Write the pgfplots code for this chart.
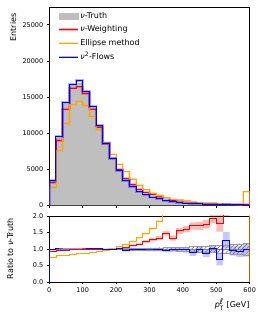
\documentclass[border=0pt]{standalone}
\usepackage{amsmath}
\usepackage{fontspec}
\setmainfont{DejaVu Sans}
\usepackage{pgfplots}
\pgfplotsset{compat=1.18}
\usepackage{pgfplotstable}
\usetikzlibrary{patterns}

\definecolor{mred}{rgb}{1,0,0}
\definecolor{morange}{HTML}{FFA500}
\definecolor{mblue}{rgb}{0,0,1}
\definecolor{mgray}{HTML}{BFBFBF}

\pgfdeclarepatternformonly{widehatch}{\pgfqpoint{-1pt}{-1pt}}{\pgfqpoint{5pt}{5pt}}{\pgfqpoint{4.2pt}{4.2pt}}{%
  \pgfsetlinewidth{0.45pt}%
  \pgfpathmoveto{\pgfqpoint{-0.2pt}{-0.2pt}}%
  \pgfpathlineto{\pgfqpoint{4.4pt}{4.4pt}}%
  \pgfusepath{stroke}}

% x = left bin edge; last bin repeated at 600; zero rows close the steps
\pgfplotstableread{
x truth red orange blue
0 0 0 0 0
0 3300 3150 2490 3400
20 9300 8950 7560 9500
40 14000 13300 11350 14200
60 16500 16200 13900 16700
80 16900 16400 14400 17250
100 15700 15500 13800 15800
120 13500 13300 12370 13700
140 11000 10850 10500 11050
160 8600 8550 8700 8550
180 6500 6550 7100 6450
200 4900 5000 5700 4800
220 3600 3750 4650 3450
240 2650 2900 3600 2600
260 1950 2240 2750 1900
280 1520 1850 2150 1480
300 1180 1510 1700 1140
320 920 1220 1330 900
340 700 1040 1050 670
360 530 700 850 515
380 410 640 680 400
400 320 510 540 310
420 250 425 430 220
440 200 340 350 195
460 160 280 290 138
480 125 240 240 125
500 100 180 200 68
520 80 185 170 102
540 65 155 150 62
560 52 125 130 48
580 42 105 1880 41
600 42 105 1880 41
600 0 0 0 0
}\tophist

\pgfplotstableread{
x te red rerr or oerr bl berr
0 0.010 0.94 0.015 0.76 0.010 0.98 0.015
20 0.008 0.97 0.010 0.80 0.010 1.00 0.010
40 0.007 0.96 0.010 0.81 0.010 1.00 0.010
60 0.007 0.98 0.010 0.84 0.010 1.00 0.010
80 0.007 0.98 0.010 0.86 0.010 1.00 0.010
100 0.008 0.99 0.010 0.88 0.010 1.00 0.010
120 0.008 1.00 0.010 0.90 0.010 1.01 0.010
140 0.009 0.99 0.012 0.93 0.010 1.00 0.012
160 0.010 1.00 0.014 0.96 0.012 0.99 0.014
180 0.012 1.00 0.016 1.01 0.014 0.99 0.016
200 0.015 1.02 0.020 1.08 0.015 1.00 0.020
220 0.018 1.04 0.025 1.15 0.020 0.95 0.025
240 0.022 1.10 0.030 1.24 0.020 0.98 0.030
260 0.026 1.15 0.035 1.34 0.025 0.98 0.035
280 0.030 1.22 0.045 1.46 0.030 0.97 0.040
300 0.035 1.28 0.050 1.62 0.035 0.97 0.045
320 0.040 1.33 0.060 1.85 0.040 0.98 0.050
340 0.045 1.48 0.070 2.10 0.050 0.96 0.055
360 0.050 1.33 0.080 2.30 0.050 0.97 0.060
380 0.060 1.55 0.090 2.50 0.050 0.98 0.070
400 0.065 1.60 0.100 2.60 0.050 0.97 0.080
420 0.075 1.70 0.110 2.70 0.050 0.88 0.090
440 0.085 1.70 0.120 2.80 0.050 0.98 0.100
460 0.095 1.75 0.130 2.90 0.050 0.86 0.110
480 0.105 1.93 0.140 3.00 0.050 1.00 0.120
500 0.120 1.78 0.250 3.10 0.050 0.68 0.180
520 0.130 2.30 0.300 3.20 0.050 1.27 0.250
540 0.150 2.40 0.300 3.30 0.050 0.95 0.150
560 0.160 2.40 0.300 3.40 0.050 0.93 0.170
580 0.180 2.50 0.300 3.50 0.050 0.97 0.200
600 0.180 2.50 0.300 3.50 0.050 0.97 0.200
}\ratiotab

\pgfplotsset{
  common/.style={
    scale only axis, width=200.4pt,
    xmin=0, xmax=600, xtick={0,100,...,600},
    tick align=outside, xtick pos=bottom, ytick pos=left,
    major tick length=2.5pt,
    every tick/.style={black, line width=0.5pt},
    axis line style={line width=0.6pt},
    tick label style={font=\fontsize{6.5}{7}\selectfont},
    /pgf/number format/assume math mode=true,
    /pgf/number format/1000 sep={},
    label style={font=\fontsize{8}{9}\selectfont},
  },
  ratiobox/.style={
    scale only axis, width=200.4pt, height=66pt,
    at={(49.3pt,37pt)}, anchor=south west,
    xmin=0, xmax=600, ymin=0, ymax=2,
  },
  band/.style={ratiobox, hide axis, stack plots=y},
}

\begin{document}
\begin{tikzpicture}
\path[use as bounding box] (0pt,0pt) rectangle (266pt,319pt);

\begin{axis}[common,
  at={(49.3pt,113.7pt)}, anchor=south west, height=198.3pt,
  ymin=0, ymax=27450, ytick={0,5000,...,25000}, scaled y ticks=false,
  xticklabels={},
  ylabel={Entries},
  ylabel style={at={(axis description cs:-0.181,0.985)}, anchor=east},
  legend style={at={(0.025,0.99)}, anchor=north west, draw=none, fill=none,
    font=\fontsize{8}{9}\selectfont, row sep=3.4pt,
    nodes={inner sep=1.2pt}},
  legend cell align=left,
]
\addlegendimage{legend image code/.code={\fill[mgray] (0pt,-2.8pt) rectangle (19pt,2.8pt);}}
\addlegendentry{\textit{ν}-Truth}
\addlegendimage{legend image code/.code={\draw[mred, opacity=0.3, line width=2.6pt] (0pt,0pt)--(19pt,0pt);\draw[mred, line width=0.8pt] (0pt,0pt)--(19pt,0pt);}}
\addlegendentry{\textit{ν}-Weighting}
\addlegendimage{legend image code/.code={\draw[morange, opacity=0.3, line width=2.6pt] (0pt,0pt)--(19pt,0pt);\draw[morange, line width=0.8pt] (0pt,0pt)--(19pt,0pt);}}
\addlegendentry{Ellipse method}
\addlegendimage{legend image code/.code={\draw[mblue, opacity=0.3, line width=2.6pt] (0pt,0pt)--(19pt,0pt);\draw[mblue, line width=0.8pt] (0pt,0pt)--(19pt,0pt);}}
\addlegendentry{\textit{ν}\textsuperscript{2}-Flows}

\addplot[fill=mgray, draw=none, const plot, forget plot] table[x=x, y=truth] {\tophist} \closedcycle;
\addplot[mred, opacity=0.3, line width=2.4pt, const plot, forget plot] table[x=x, y=red] {\tophist};
\addplot[mred, line width=0.8pt, const plot, forget plot] table[x=x, y=red] {\tophist};
\addplot[morange, opacity=0.3, line width=2.4pt, const plot, forget plot] table[x=x, y=orange] {\tophist};
\addplot[morange, line width=0.8pt, const plot, forget plot] table[x=x, y=orange] {\tophist};
\addplot[mblue, opacity=0.3, line width=2.6pt, const plot, forget plot] table[x=x, y=blue] {\tophist};
\addplot[mblue, line width=1pt, const plot, forget plot] table[x=x, y=blue] {\tophist};
\end{axis}

% ratio bands (stacked: lower edge, then band width)
\begin{axis}[band]
\addplot[draw=none, const plot] table[x=x, y expr=\thisrow{or}-\thisrow{oerr}] {\ratiotab};
\addplot[fill=morange, fill opacity=0.3, draw=none, const plot] table[x=x, y expr=2*\thisrow{oerr}] {\ratiotab} \closedcycle;
\end{axis}
\begin{axis}[band]
\addplot[draw=none, const plot] table[x=x, y expr=\thisrow{red}-\thisrow{rerr}] {\ratiotab};
\addplot[fill=mred, fill opacity=0.27, draw=none, const plot] table[x=x, y expr=2*\thisrow{rerr}] {\ratiotab} \closedcycle;
\end{axis}
\begin{axis}[band]
\addplot[draw=none, const plot] table[x=x, y expr=\thisrow{bl}-\thisrow{berr}] {\ratiotab};
\addplot[fill=mblue, fill opacity=0.22, draw=none, const plot] table[x=x, y expr=2*\thisrow{berr}] {\ratiotab} \closedcycle;
\end{axis}
\begin{axis}[band]
\addplot[draw=none, const plot] table[x=x, y expr=1-\thisrow{te}] {\ratiotab};
\addplot[pattern=widehatch, pattern color=black!60, draw=black!40, line width=0.3pt, const plot] table[x=x, y expr=2*\thisrow{te}] {\ratiotab} \closedcycle;
\end{axis}

\begin{axis}[common, ratiobox,
  ytick={0,0.5,1,1.5,2},
  yticklabel style={/pgf/number format/.cd, fixed, fixed zerofill, precision=1},
  ylabel={Ratio to \textit{ν}-Truth},
  ylabel style={at={(axis description cs:-0.196,0.5)}, anchor=center},
  xlabel={$\textit{p}_{\text{T}}^{\raisebox{0.8pt}{\textit{ℓ}}}$ [GeV]},
  xlabel style={at={(axis description cs:1,0)}, anchor=north east, yshift=-16pt, inner sep=0pt},
]
\addplot[black!50, line width=0.8pt, forget plot] coordinates {(0,1) (600,1)};
\addplot[morange, line width=0.8pt, const plot, forget plot] table[x=x, y=or] {\ratiotab};
\addplot[morange, line width=0.8pt, forget plot] coordinates {(600,2.5) (600,0)};
\addplot[mred, line width=0.8pt, const plot, forget plot] table[x=x, y=red] {\ratiotab};
\addplot[mblue, line width=1pt, const plot, forget plot] table[x=x, y=bl] {\ratiotab};
\addplot[mblue, line width=1pt, forget plot] coordinates {(0,0) (0,0.98)};
\end{axis}
\end{tikzpicture}
\end{document}
